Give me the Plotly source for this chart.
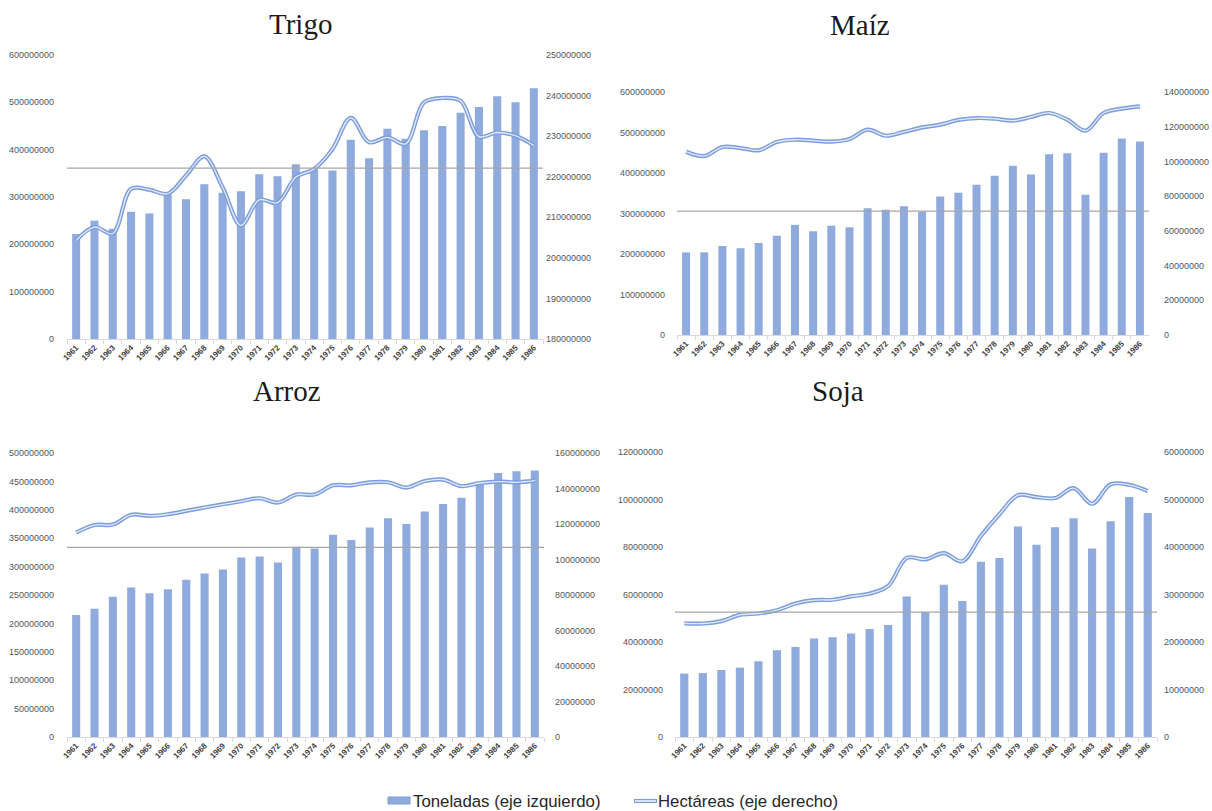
import plotly.graph_objects as go

W, H = 1212, 811

# Campañas 1961-1986
anios = [str(a) for a in range(1961, 1987)]

# Producción (toneladas, eje izquierdo)
trigo_ton = [222e6, 250e6, 233e6, 269e6, 265e6, 305e6, 295e6, 327e6, 309e6, 312e6,
             348e6, 344e6, 369e6, 358e6, 356e6, 421e6, 382e6, 444e6, 423e6, 441e6,
             450e6, 478e6, 490e6, 513e6, 500e6, 530e6]
maiz_ton = [204e6, 204e6, 220e6, 214e6, 227e6, 245e6, 272e6, 256e6, 270e6, 266e6,
            313e6, 309e6, 318e6, 305e6, 342e6, 351e6, 371e6, 393e6, 418e6, 396e6,
            446e6, 449e6, 346e6, 450e6, 485e6, 478e6]
arroz_ton = [215e6, 226e6, 247e6, 263e6, 253e6, 260e6, 277e6, 288e6, 295e6, 316e6,
             318e6, 307e6, 335e6, 332e6, 356e6, 347e6, 369e6, 385e6, 375e6, 397e6,
             410e6, 421e6, 448e6, 465e6, 468e6, 469e6]
soja_ton = [26.7e6, 26.9e6, 28.2e6, 29.2e6, 31.9e6, 36.5e6, 37.9e6, 41.5e6, 42.0e6, 43.6e6,
            45.5e6, 47.2e6, 59.2e6, 52.6e6, 64.1e6, 57.3e6, 73.8e6, 75.4e6, 88.6e6, 81.0e6,
            88.3e6, 92.1e6, 79.4e6, 90.8e6, 101.1e6, 94.3e6]

# Superficie cosechada (hectáreas, eje derecho)
trigo_ha = [204.3e6, 207.6e6, 206.0e6, 217.0e6, 216.8e6, 215.8e6, 220.3e6, 225.0e6, 217.4e6, 208.0e6,
            214.3e6, 213.6e6, 219.9e6, 221.9e6, 226.8e6, 234.5e6, 228.5e6, 229.7e6, 228.1e6, 238.3e6,
            239.4e6, 238.7e6, 229.9e6, 230.9e6, 230.1e6, 227.7e6]
maiz_ha = [105.6e6, 103.1e6, 108.3e6, 107.7e6, 106.4e6, 111.2e6, 112.5e6, 112.0e6, 111.4e6, 112.9e6,
           118.3e6, 114.8e6, 117.0e6, 119.6e6, 121.2e6, 123.9e6, 125.0e6, 124.6e6, 123.5e6, 125.6e6,
           127.9e6, 124.1e6, 117.7e6, 127.9e6, 130.4e6, 131.7e6]
arroz_ha = [115.1e6, 119.4e6, 119.7e6, 125.2e6, 124.6e6, 125.5e6, 127.4e6, 129.3e6, 131.1e6, 132.8e6,
            134.5e6, 132.1e6, 136.6e6, 136.6e6, 141.8e6, 141.8e6, 143.5e6, 143.5e6, 140.5e6, 144.2e6,
            145.0e6, 141.3e6, 143.1e6, 143.9e6, 143.5e6, 144.4e6]
soja_ha = [23.9e6, 23.9e6, 24.4e6, 25.7e6, 26.0e6, 26.7e6, 28.1e6, 28.8e6, 28.9e6, 29.6e6,
           30.2e6, 31.8e6, 37.7e6, 37.4e6, 38.7e6, 37.0e6, 42.3e6, 46.9e6, 50.9e6, 50.5e6,
           50.3e6, 52.4e6, 49.1e6, 53.2e6, 53.1e6, 51.8e6]

# Nivel de referencia horizontal de cada cultivo (toneladas)
niveles_ref = [361e6, 306e6, 334e6, 52.6e6]

cultivos = ["Trigo", "Maíz", "Arroz", "Soja"]
toneladas = [trigo_ton, maiz_ton, arroz_ton, soja_ton]
hectareas = [trigo_ha, maiz_ha, arroz_ha, soja_ha]

# Escalas de los ejes: (min, max, paso) izquierdo y derecho
ejes_izq = [(0, 600e6, 100e6), (0, 600e6, 100e6), (0, 500e6, 50e6), (0, 120e6, 20e6)]
ejes_der = [(180e6, 250e6, 10e6), (0, 140e6, 20e6), (0, 160e6, 20e6), (0, 60e6, 10e6)]

# Área de dibujo de cada panel en píxeles: (x0, x1, y_sup, y_inf)
paneles_px = [(67, 543, 55, 339), (677, 1149, 92, 335), (67, 544, 453, 737), (675, 1157, 452, 737)]
# Separación de las etiquetas de los ejes
sep_izq = [12, 11, 12, 11]
sep_der = [2, 14, 10, 6]
# Posición de los títulos (píxeles)
titulos_px = [(300, 24), (860, 25), (287, 391), (838, 391)]

COLOR_BARRA = "#8FAADC"
COLOR_LINEA = "#7B9DDB"
COLOR_LINEA_INT = "#E4EBF8"
COLOR_TEXTO = "#555555"

def px_x(v):
    return v / W

def px_y(v):
    return 1 - v / H

fig = go.Figure()
layout = dict(
    width=W, height=H, margin=dict(l=0, r=0, t=0, b=0, autoexpand=False),
    paper_bgcolor="white", plot_bgcolor="rgba(0,0,0,0)",
    showlegend=False, bargap=0.56,
)
shapes = []
annotations = []

tick_font = dict(family="Liberation Sans, Arial, sans-serif", size=9, color=COLOR_TEXTO)
year_font = dict(family="Liberation Sans, Arial, sans-serif", size=8, color="#404040", weight="bold")

for i in range(4):
    n = i + 1
    xa = "x" if n == 1 else f"x{n}"
    ya_l = "y" if n == 1 else f"y{2 * n - 1}"
    ya_r = f"y{2 * n}"
    x0, x1, yt, yb = paneles_px[i]

    fig.add_trace(go.Bar(x=anios, y=toneladas[i], xaxis=xa, yaxis=ya_l,
                         marker=dict(color=COLOR_BARRA, line=dict(width=0)),
                         name="Toneladas (eje izquierdo)"))
    fig.add_trace(go.Scatter(x=anios, y=hectareas[i], xaxis=xa, yaxis=ya_r, mode="lines",
                             line=dict(color=COLOR_LINEA, width=4.2, shape="spline", smoothing=1),
                             name="Hectáreas (eje derecho)"))
    fig.add_trace(go.Scatter(x=anios, y=hectareas[i], xaxis=xa, yaxis=ya_r, mode="lines",
                             line=dict(color=COLOR_LINEA_INT, width=1.3, shape="spline", smoothing=1),
                             hoverinfo="skip"))

    xkey = "xaxis" if n == 1 else f"xaxis{n}"
    ylkey = "yaxis" if n == 1 else f"yaxis{2 * n - 1}"
    yrkey = f"yaxis{2 * n}"
    layout[xkey] = dict(
        domain=[px_x(x0), px_x(x1)], anchor=ya_l, type="category", automargin=False,
        range=[-0.5, len(anios) - 0.5], tickangle=-45, tickfont=year_font,
        showline=True, linecolor="#D9D9D9", linewidth=1,
        ticks="outside", tickson="boundaries", ticklen=4, tickcolor="#D9D9D9",
        showgrid=False, zeroline=False, fixedrange=True,
    )
    lo, hi, paso = ejes_izq[i]
    layout[ylkey] = dict(
        domain=[px_y(yb), px_y(yt)], anchor=xa, range=[lo, hi], dtick=paso, tick0=0,
        automargin=False, tickformat="d", tickfont=tick_font, showgrid=False,
        zeroline=False, showline=False, ticks="", ticklabelstandoff=sep_izq[i],
    )
    lo, hi, paso = ejes_der[i]
    layout[yrkey] = dict(
        domain=[px_y(yb), px_y(yt)], anchor=xa, overlaying=ya_l, side="right",
        range=[lo, hi], dtick=paso, tick0=lo, tickformat="d", tickfont=tick_font,
        automargin=False, showgrid=False, zeroline=False, showline=False, ticks="",
        ticklabelstandoff=sep_der[i],
    )

    # Línea horizontal de referencia
    shapes.append(dict(type="line", xref=f"{xa} domain", yref=ya_l, x0=0, x1=1,
                       y0=niveles_ref[i], y1=niveles_ref[i],
                       line=dict(color="#A6A6A6", width=1.3), layer="above"))

    tx, ty = titulos_px[i]
    annotations.append(dict(text=cultivos[i], x=px_x(tx), y=px_y(ty), xref="paper", yref="paper",
                            xanchor="center", yanchor="middle", showarrow=False,
                            font=dict(family="Liberation Serif, Times New Roman, serif",
                                      size=29, color="#1a1a1a")))

# Leyenda común al pie
ley_y = 801
shapes.append(dict(type="rect", xref="paper", yref="paper",
                   x0=px_x(388), x1=px_x(410), y0=px_y(804), y1=px_y(797),
                   fillcolor=COLOR_BARRA, line=dict(color="#7F9ED6", width=1)))
shapes.append(dict(type="line", xref="paper", yref="paper",
                   x0=px_x(634), x1=px_x(657), y0=px_y(ley_y), y1=px_y(ley_y),
                   line=dict(color=COLOR_LINEA, width=4.2)))
shapes.append(dict(type="line", xref="paper", yref="paper",
                   x0=px_x(635), x1=px_x(656), y0=px_y(ley_y), y1=px_y(ley_y),
                   line=dict(color="white", width=1.4)))
ley_font = dict(family="Liberation Sans, Arial, sans-serif", size=16.8, color="#262626")
annotations.append(dict(text="Toneladas (eje izquierdo)", x=px_x(411), y=px_y(ley_y),
                        xref="paper", yref="paper", xanchor="left", yanchor="middle",
                        showarrow=False, font=ley_font))
annotations.append(dict(text="Hectáreas (eje derecho)", x=px_x(656), y=px_y(ley_y),
                        xref="paper", yref="paper", xanchor="left", yanchor="middle",
                        showarrow=False, font=ley_font))

layout["shapes"] = shapes
layout["annotations"] = annotations
fig.update_layout(**layout)

fig.write_html("out.html", include_plotlyjs=True, config={"displayModeBar": False})
